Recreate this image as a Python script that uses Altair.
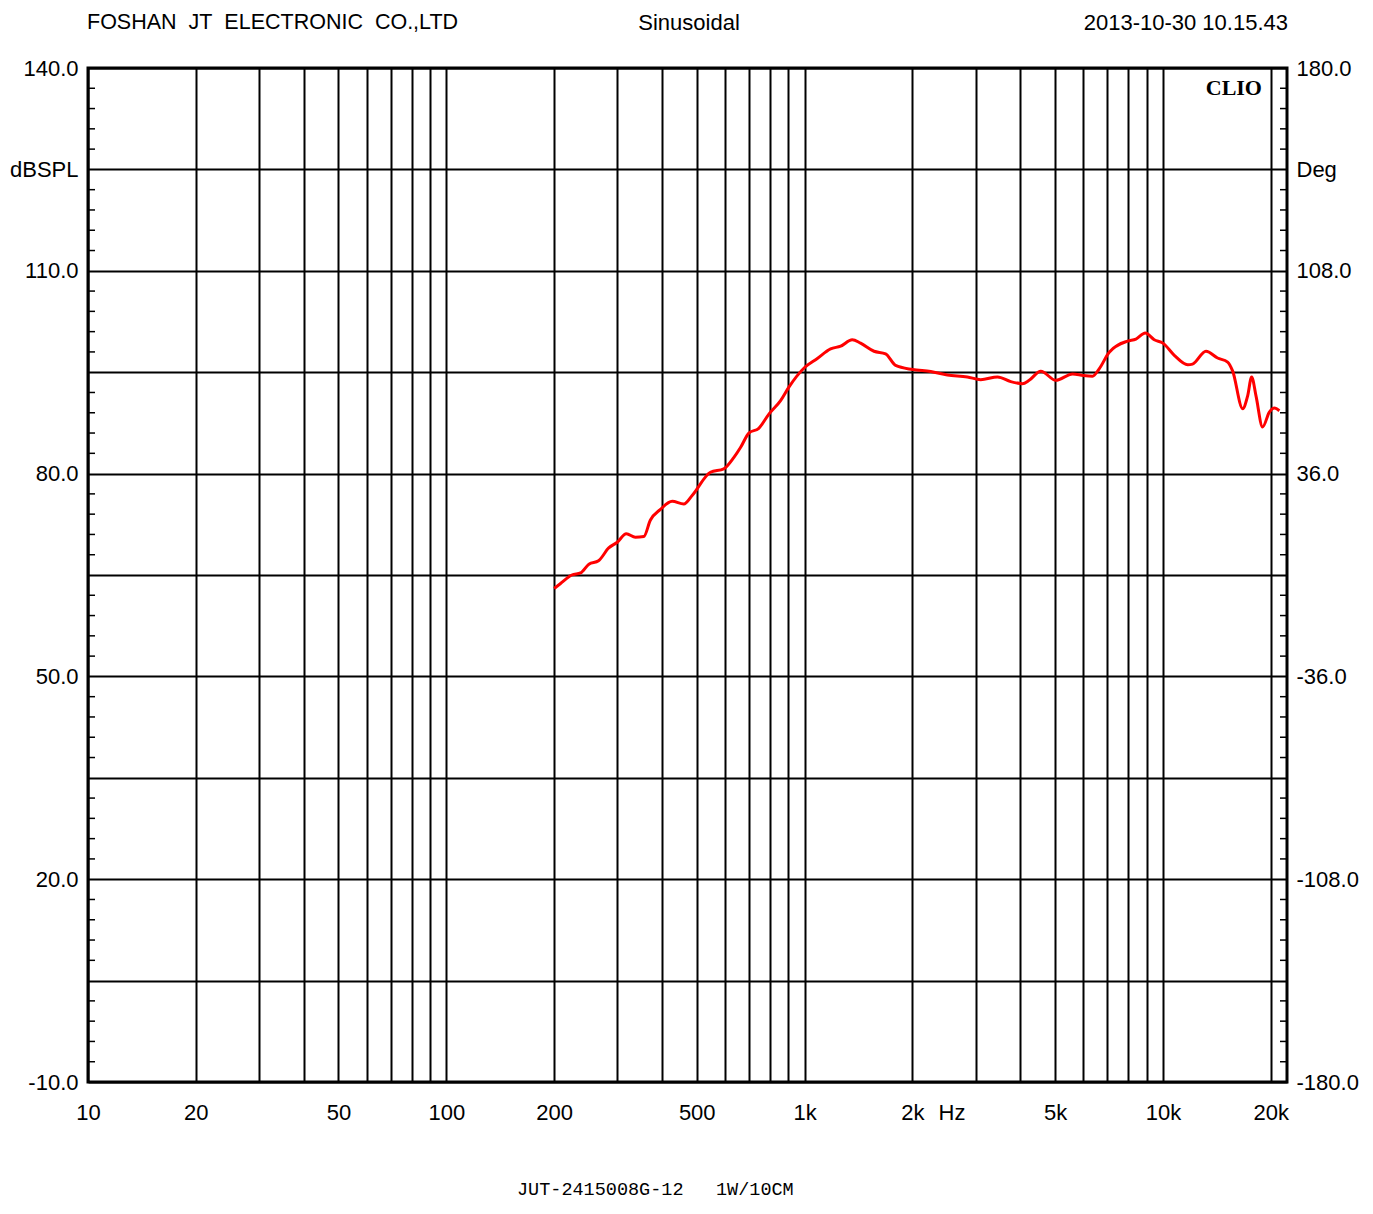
import altair as alt
import pandas as pd

# ---- data ----
freq_hz = [200, 208, 224, 237, 250, 266, 284, 300, 318, 337, 356, 371, 396, 427, 460, 486,
           546, 595, 635, 663, 699, 745, 795, 857, 904, 1000, 1083, 1182, 1261, 1358, 1433,
           1562, 1683, 1795, 2000, 2249, 2503, 2846, 3101, 3455, 3761, 4055, 4234, 4563,
           5025, 5597, 6000, 6362, 6640, 7083, 7969, 8410, 8930, 9460, 10000, 10760, 11730,
           12100, 13190, 14210, 15160, 15650, 16700, 17240, 17690, 18190, 18980, 19820,
           20470, 21140]
spl_db = [63.0, 63.7, 65.0, 65.3, 66.6, 67.1, 69.0, 69.85, 71.1, 70.6, 70.7, 73.1, 74.7, 75.9,
          75.5, 76.8, 80.2, 80.7, 82.4, 83.9, 86.0, 86.7, 88.8, 90.8, 92.8, 95.7, 97.0, 98.45,
          98.85, 99.8, 99.3, 98.1, 97.7, 96.0, 95.4, 95.1, 94.6, 94.3, 93.9, 94.3, 93.6, 93.3,
          93.8, 95.15, 93.8, 94.75, 94.5, 94.4, 95.5, 97.96, 99.6, 99.9, 100.8, 99.8, 99.3,
          97.5, 96.1, 96.2, 98.1, 97.1, 96.5, 95.2, 89.6, 91.5, 94.3, 91.5, 86.9, 89.1, 89.7,
          89.3]

x_grid_values = [10, 20, 30, 40, 50, 60, 70, 80, 90, 100,
                 200, 300, 400, 500, 600, 700, 800, 900, 1000,
                 2000, 3000, 4000, 5000, 6000, 7000, 8000, 9000, 10000, 20000]
x_label_values = [10, 20, 50, 100, 200, 500, 1000, 2000, 5000, 10000, 20000]
y_grid_values = [-10, 5, 20, 35, 50, 65, 80, 95, 110, 125, 140]
y_label_values = [-10, 20, 50, 80, 110, 140]
minor_tick_values = [v for v in range(-10, 141, 3) if (v + 10) % 15 != 0]

NB = "\u00a0"
header_left = "FOSHAN" + NB + " JT" + NB + " ELECTRONIC" + NB + " CO.,LTD"
header_mid = "Sinusoidal"
header_right = "2013-10-30 10.15.43"
footer_model = "JUT-2415008G-12"
footer_cond = "1W/10CM"

W, H = 1199, 1014
FONT = "Liberation Sans"

df = pd.DataFrame({"freq": freq_hz, "spl": spl_db})
xscale = alt.Scale(type="log", domain=[10, 22200], nice=False)
yscale = alt.Scale(domain=[-10, 140], nice=False, zero=False)

x_label_expr = (
    "indexof(" + str(x_label_values) + ", datum.value) >= 0 ? "
    "(datum.value >= 1000 ? (datum.value / 1000) + 'k' : '' + datum.value) : ''"
)
left_label_expr = (
    "datum.value == 125 ? 'dBSPL' : (indexof(" + str(y_label_values) +
    ", datum.value) >= 0 ? ((datum.value < 0 ? '-' : '') + format(abs(datum.value), '.1f')) : '')"
)
right_label_expr = (
    "datum.value == 125 ? 'Deg' : (indexof(" + str(y_label_values) +
    ", datum.value) >= 0 ? ((datum.value < 65 ? '-' : '') + "
    "format(abs((datum.value - 65) * 2.4), '.1f')) : '')"
)

x_axis = alt.Axis(title=None, values=x_grid_values, labelExpr=x_label_expr,
                  grid=True, ticks=False, domain=False, labelPadding=20,
                  labelFlush=False, labelOverlap=False, labelFont=FONT,
                  labelFontSize=22, labelColor="black")

curve = alt.Chart(df).mark_line(color="#ff0000", strokeWidth=3, interpolate="monotone").encode(
    x=alt.X("freq:Q", scale=xscale, axis=x_axis),
    y=alt.Y("spl:Q", scale=yscale,
            axis=alt.Axis(title=None, values=y_grid_values, labelExpr=left_label_expr,
                          grid=True, ticks=False, domain=False, labelPadding=10,
                          labelOverlap=False, labelFont=FONT, labelFontSize=22,
                          labelColor="black", orient="left")),
)

right_axis = alt.Chart(df).mark_line(opacity=0).encode(
    x=alt.X("freq:Q", scale=xscale, axis=x_axis),
    y=alt.Y("spl:Q", scale=yscale,
            axis=alt.Axis(title=None, values=y_grid_values, labelExpr=right_label_expr,
                          grid=False, ticks=False, domain=False, labelPadding=9,
                          labelOverlap=False, labelFont=FONT, labelFontSize=22,
                          labelColor="black", orient="right", labelAlign="left")),
)

ticks_df = pd.DataFrame({"v": minor_tick_values})
left_ticks = alt.Chart(ticks_df).mark_rule(color="black", strokeWidth=1.5).encode(
    y=alt.Y("v:Q", scale=yscale, axis=None), x=alt.value(0), x2=alt.value(7))
right_ticks = alt.Chart(ticks_df).mark_rule(color="black", strokeWidth=1.5).encode(
    y=alt.Y("v:Q", scale=yscale, axis=None), x=alt.value(W - 7), x2=alt.value(W))


def label(text, x, y, align="left", font=FONT, size=22, weight="normal"):
    return alt.Chart(pd.DataFrame({"t": [text]})).mark_text(
        align=align, baseline="middle", font=font, fontSize=size, fontWeight=weight,
        color="black").encode(text="t:N", x=alt.value(x), y=alt.value(y))


texts = [
    label(header_left, -1, -45, size=21.5),
    label(header_mid, 601, -45, align="center"),
    label(header_right, 1200, -45, align="right"),
    label("CLIO", 1174, 20, align="right", font="Liberation Serif", size=22, weight="bold"),
    label("Hz", 864, 1045, align="center"),
    label(footer_model, 429, 1121, font="Liberation Mono", size=18.5),
    label(footer_cond, 628, 1121, font="Liberation Mono", size=18.5),
]

chart = alt.layer(curve, right_axis, left_ticks, right_ticks, *texts).resolve_axis(
    y="independent"
).properties(
    width=W, height=H,
    autosize=alt.AutoSizeParams(type="none"),
    padding={"left": 80, "top": 60, "right": 76, "bottom": 120},
    background="white",
).configure_view(
    stroke="black", strokeWidth=3
).configure_axis(
    gridColor="black", gridWidth=2, gridOpacity=1
)

chart.save("out.html", embed_options={"renderer": "svg", "actions": False})
